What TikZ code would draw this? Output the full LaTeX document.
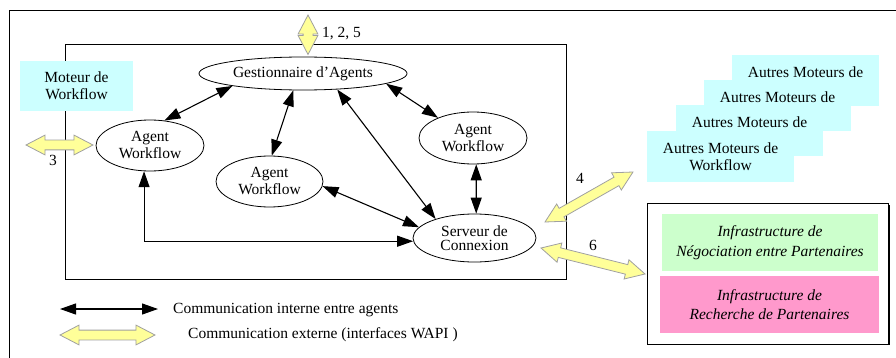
\documentclass[tikz,border=0pt]{standalone}
\usepackage{fontspec}
\setmainfont{Liberation Serif}
\usetikzlibrary{shapes.geometric,shapes.arrows,arrows.meta,calc}

\definecolor{cyanbox}{HTML}{CCFFFF}
\definecolor{greenbox}{HTML}{CCFFCC}
\definecolor{pinkbox}{HTML}{FF99CC}
\definecolor{wapi}{HTML}{FFFF99}
\definecolor{wapiedge}{HTML}{A0A0A0}

\tikzset{
  txt/.style={font=\fontsize{15.5}{17}\selectfont},
  agent/.style={ellipse, draw, line width=0.8pt, inner sep=0pt, align=center, txt},
  link/.style={line width=1.1pt,
    {Triangle[length=16pt,width=11pt]}-{Triangle[length=16pt,width=11pt]}},
  extarr/.style={double arrow, draw=wapiedge, fill=wapi, line width=0.8pt,
    inner xsep=0pt, inner ysep=4.5pt, double arrow head extend=5pt,
    double arrow tip angle=55},
  moteur/.style={fill=cyanbox, minimum width=147pt, minimum height=51pt,
    align=center, txt, inner sep=0pt},
  infra/.style={minimum width=216pt, minimum height=57pt, align=center,
    inner sep=0pt, font=\fontsize{15.5}{19.5}\selectfont\itshape},
  lbl/.style={txt, inner sep=0pt, anchor=base},
}

% wide yellow double arrow (WAPI interface) between two points
\newcommand\extlink[3]{%
  \path let \p1=($(#3)-(#2)$), \n1={atan2(\y1,\x1)}, \n2={veclen(\x1,\y1)} in
    node[extarr, rotate=\n1, minimum height=\n2] (#1) at ($(#2)!0.5!(#3)$) {};}

\begin{document}
\begin{tikzpicture}[x=1pt, y=-1pt]
\useasboundingbox (0,0) rectangle (896,358);

% outer frame
\draw[line width=0.9pt] (9,358) -- (9,10) -- (896,10);

% workflow system box
\node[draw, line width=0.8pt, minimum width=501pt, minimum height=235pt, inner sep=0pt]
  (sys) at (315.5,161.5) {};

% local workflow engine
\node[moteur, minimum width=113pt, minimum height=50pt] (engine) at (76.5,86) {Moteur de\\Workflow};

% agents
\node[agent, minimum width=208pt, minimum height=33pt] (gest) at (303,73.5) {Gestionnaire d’Agents};
\node[agent, minimum width=108pt, minimum height=51pt] (agL) at (150,145.5) {Agent\\Workflow};
\node[agent, minimum width=107pt, minimum height=51pt] (agM) at (269.5,181.5) {Agent\\Workflow};
\node[agent, minimum width=108pt, minimum height=52pt] (agR) at (473,138) {Agent\\Workflow};
\node[agent, minimum width=123pt, minimum height=48pt, font=\fontsize{15.5}{14.5}\selectfont]
  (serv) at (474.5,238) {Serveur de\\Connexion};

% internal communication
\draw[link] (agL.60) -- (gest.190);
\draw[link] (agM.85) -- (gest.240);
\draw[link] (gest.-25) -- (serv.154);
\draw[link] (gest.-7) -- (agR.150);
\draw[link] (agR.-83) -- (serv.86);
\draw[link] (agM.-5) -- (serv.169);
\draw[link] (agL.-103) |- (serv.183);

% other workflow engines (stacked, only the front one shows its full name)
\node[moteur] (other1) at (805.5,80.5) {Autres Moteurs de\\\vphantom{Workflow}};
\node[moteur] (other2) at (777.5,105.5) {Autres Moteurs de\\\vphantom{Workflow}};
\node[moteur] (other3) at (749.5,131) {Autres Moteurs de\\\vphantom{Workflow}};
\node[moteur] (other4) at (720.5,156.5) {Autres Moteurs de\\Workflow};

% partner infrastructures
\fill (649.5,205) rectangle (890,345);
\node[draw, fill=white, line width=0.9pt, minimum width=241pt, minimum height=141pt, inner sep=0pt]
  (infra) at (768,273.5) {};
\node[infra, fill=greenbox] (nego) at (770,242.5) {Infrastructure de\\Négociation entre Partenaires};
\node[infra, fill=pinkbox, minimum width=219pt] (search) at (769.5,304.5) {Infrastructure de\\Recherche de Partenaires};

% external communication (WAPI)
\coordinate (w1a) at (308,15);   \coordinate (w1b) at (308,54.5);
\coordinate (w3a) at (26,145);   \coordinate (w3b) at (93,145);
\coordinate (w4a) at (545,222);  \coordinate (w4b) at (633,172);
\coordinate (w6a) at (541,248);  \coordinate (w6b) at (645,274);
\extlink{ext1}{w1a}{w1b}
\extlink{ext3}{w3a}{w3b}
\extlink{ext4}{w4a}{w4b}
\extlink{ext6}{w6a}{w6b}

\node[lbl, anchor=base west] (l125) at (322,37.5) {1, 2, 5};
\node[lbl] (l3) at (53,165.5) {3};
\node[lbl] (l4) at (580,183) {4};
\node[lbl] (l6) at (593,250.5) {6};

% legend
\coordinate (lg1a) at (60,309);  \coordinate (lg1b) at (158,309);
\draw[link] (lg1a) -- (lg1b);
\coordinate (lg2a) at (60,335);  \coordinate (lg2b) at (155,335);
\extlink{lgext}{lg2a}{lg2b}
\node[lbl, anchor=base west] (lgt1) at (173,313.5) {Communication interne entre agents};
\node[lbl, anchor=base west] (lgt2) at (188,338) {Communication externe (interfaces WAPI )};
\end{tikzpicture}
\end{document}
